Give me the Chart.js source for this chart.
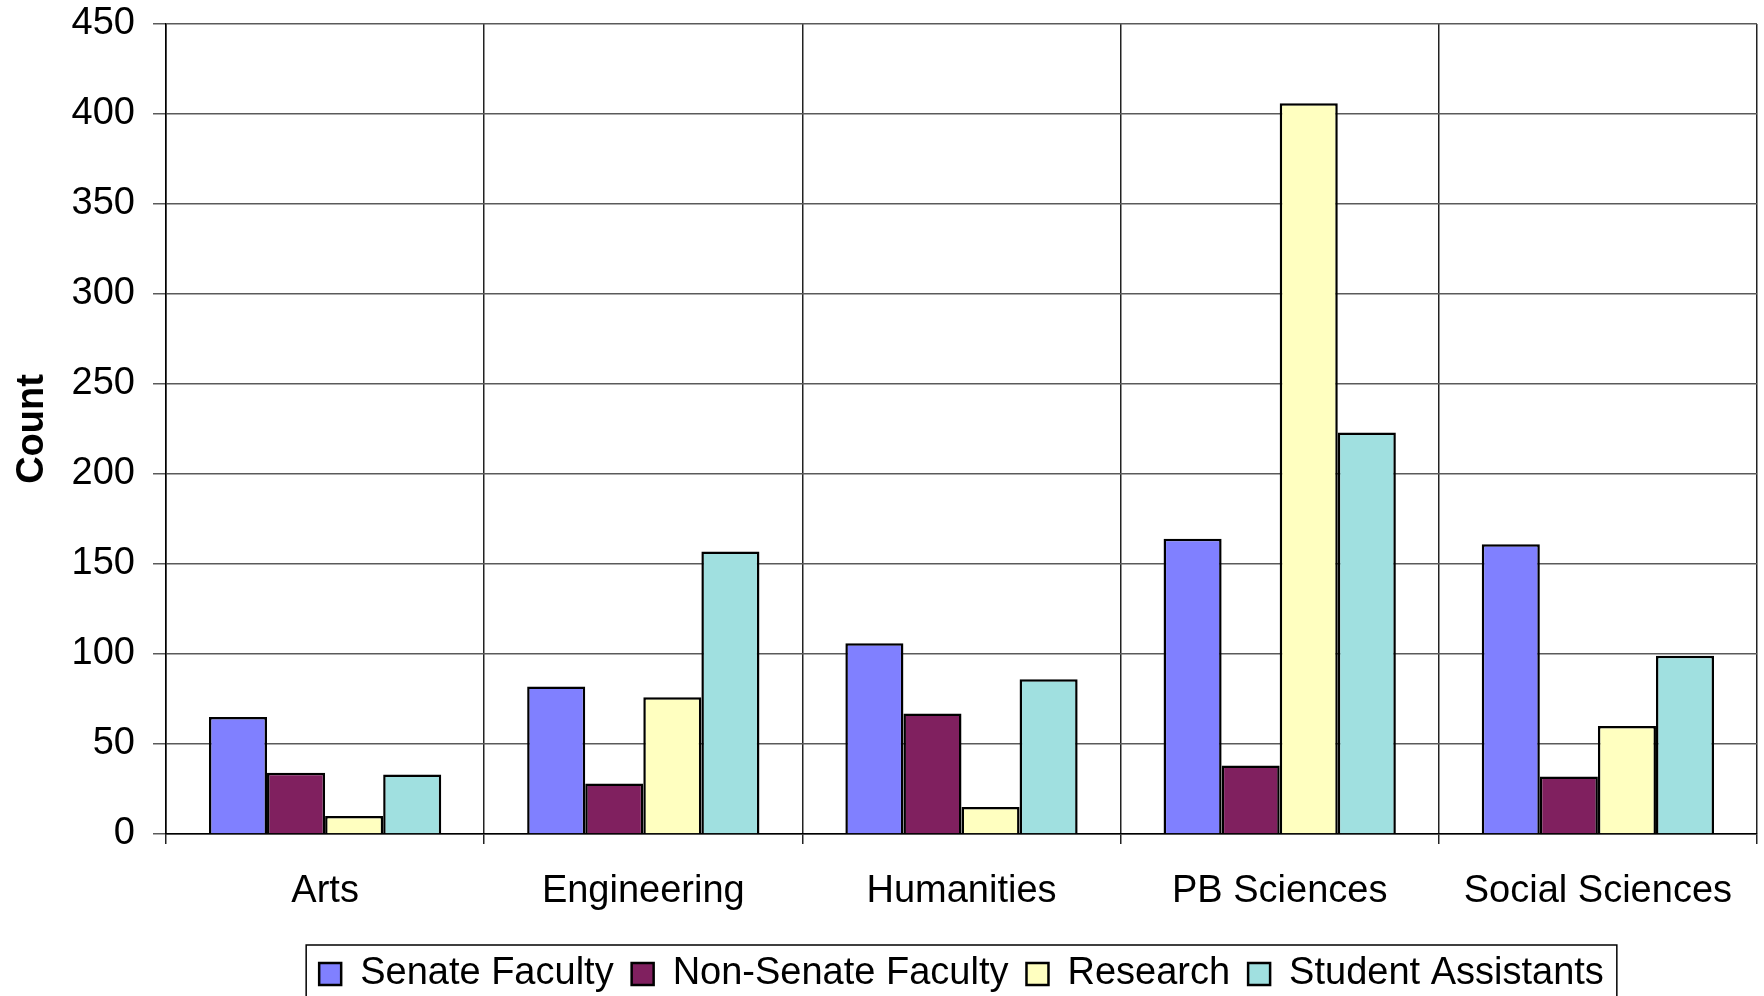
<!DOCTYPE html>
<html>
<head>
<meta charset="utf-8">
<script src="https://cdn.jsdelivr.net/npm/chart.js@4/dist/chart.umd.min.js"></script>
<style>
  html, body { margin: 0; padding: 0; background: #fff; }
  canvas { display: block; }
</style>
</head>
<body>
<canvas id="staff_chart" width="1764" height="996"></canvas>
<script>
const categories = ['Arts', 'Engineering', 'Humanities', 'PB Sciences', 'Social Sciences'];
const senateFaculty = [65, 82, 106, 164, 161];
const nonSenateFaculty = [34, 28, 67, 38, 32];
const research = [10, 76, 15, 406, 60];
const studentAssistants = [33, 157, 86, 223, 99];
const yTicks = [0, 50, 100, 150, 200, 250, 300, 350, 400, 450];

const FONT = 'Liberation Sans, Arial, sans-serif';

// box round the legend, like the spreadsheet one
const legendBorder = {
  id: 'legendBorder',
  afterDraw(chart) {
    const boxes = chart.legend.legendHitBoxes;
    if (!boxes || !boxes.length) return;
    const first = boxes[0], last = boxes[boxes.length - 1];
    const ctx = chart.ctx;
    ctx.save();
    ctx.strokeStyle = '#000';
    ctx.lineWidth = 1.5;
    ctx.strokeRect(first.left - 13, first.top - 10, (last.left + last.width + 13) - (first.left - 13), 70);
    ctx.restore();
  }
};

const staff_ctx = document.getElementById('staff_chart').getContext('2d');

new Chart(staff_ctx, {
  type: 'bar',
  data: {
    labels: categories,
    datasets: [{
      label: 'Senate Faculty',
      data: senateFaculty,
      backgroundColor: '#8080ff',
      borderColor: '#000',
      borderWidth: 2.5
    }, {
      label: 'Non-Senate Faculty',
      data: nonSenateFaculty,
      backgroundColor: '#80205f',
      borderColor: '#000',
      borderWidth: 2.5
    }, {
      label: 'Research',
      data: research,
      backgroundColor: '#ffffc0',
      borderColor: '#000',
      borderWidth: 2.5
    }, {
      label: 'Student Assistants',
      data: studentAssistants,
      backgroundColor: '#a0e0e0',
      borderColor: '#000',
      borderWidth: 2.5
    }]
  },
  options: {
    responsive: false,
    animation: false,
    devicePixelRatio: 1,
    layout: {
      padding: { top: 24, right: 7, left: 0, bottom: -7 }
    },
    datasets: {
      bar: { categoryPercentage: 0.73, barPercentage: 1 }
    },
    plugins: {
      tooltip: { enabled: false },
      legend: {
        position: 'bottom',
        fullSize: false,
        labels: {
          color: '#000',
          font: { family: FONT, size: 38 },
          boxWidth: 22,
          boxHeight: 22,
          padding: 18
        }
      }
    },
    scales: {
      x: {
        grid: {
          offset: true,
          color: '#222',
          lineWidth: 1.5,
          tickLength: 10
        },
        border: { color: '#000', width: 1.5 },
        ticks: {
          color: '#000',
          font: { family: FONT, size: 38 },
          padding: 25,
          maxRotation: 0
        },
        afterFit(scale) { scale.height = 103; }
      },
      y: {
        min: 0,
        max: 450,
        afterBuildTicks(scale) { scale.ticks = yTicks.map(v => ({ value: v })); },
        grid: {
          color: '#5a5a5a',
          lineWidth: 1.5,
          tickLength: 13
        },
        border: { color: '#000', width: 1.5 },
        ticks: {
          color: '#000',
          font: { family: FONT, size: 38 },
          padding: 18
        },
        title: {
          display: true,
          text: 'Count',
          color: '#000',
          font: { family: FONT, size: 38, weight: 'bold' },
          padding: { top: 10, bottom: 0 }
        },
        afterFit(scale) {
          scale.width = 166;
          scale.paddingTop = 0;
          scale.paddingBottom = 0;
        }
      }
    }
  },
  plugins: [legendBorder]
});
</script>
</body>
</html>
